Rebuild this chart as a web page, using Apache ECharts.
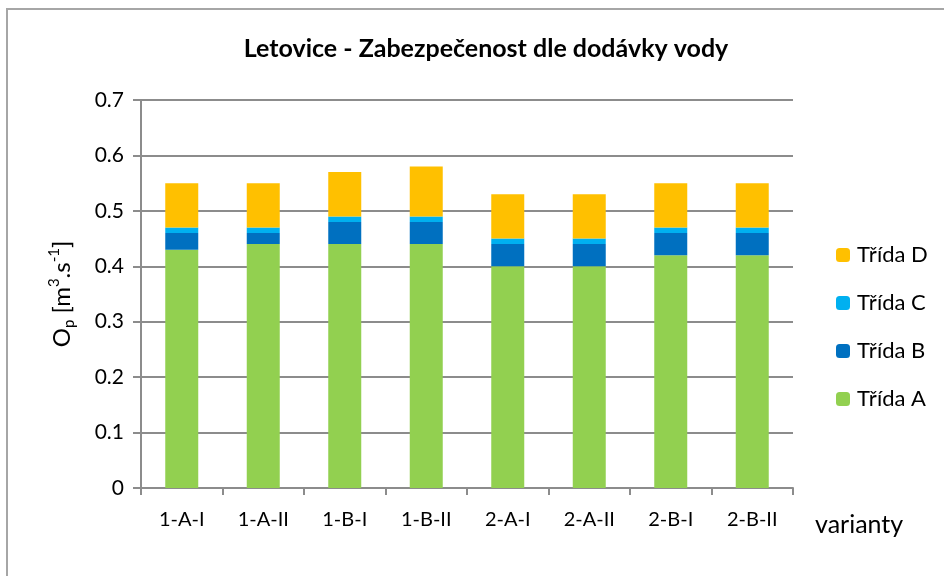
<!DOCTYPE html>
<html>
<head>
<meta charset="utf-8">
<script src="https://cdn.jsdelivr.net/npm/echarts@6/dist/echarts.min.js"></script>
<style>
  html, body { margin: 0; padding: 0; background: #fff; }
  #chart { width: 944px; height: 576px; }
</style>
</head>
<body>
<div id="chart"></div>
<script>
const categories = ['1-A-I', '1-A-II', '1-B-I', '1-B-II', '2-A-I', '2-A-II', '2-B-I', '2-B-II'];
// stack segments (each class adds to the one below)
const tridaA = [0.43, 0.44, 0.44, 0.44, 0.40, 0.40, 0.42, 0.42];
const tridaB = [0.03, 0.02, 0.04, 0.04, 0.04, 0.04, 0.04, 0.04];
const tridaC = [0.01, 0.01, 0.01, 0.01, 0.01, 0.01, 0.01, 0.01];
const tridaD = [0.08, 0.08, 0.08, 0.09, 0.08, 0.08, 0.08, 0.08];

const FONT = 'Lato';
const gridColor = '#8c8c8c';

const chart = echarts.init(document.getElementById('chart'));

function bar(name, data, color) {
  return {
    name: name,
    type: 'bar',
    stack: 'total',
    data: data,
    barWidth: 33,
    itemStyle: { color: color },
    emphasis: { disabled: true }
  };
}

chart.setOption({
  animation: false,
  textStyle: { fontFamily: FONT, color: '#000' },
  title: {
    text: 'Letovice - Zabezpečenost dle dodávky vody',
    left: 481,
    top: 31,
    textAlign: 'center',
    textStyle: { fontFamily: FONT, fontSize: 25, fontWeight: 'bold', color: '#000' }
  },
  graphic: [{
    type: 'rect',
    shape: { x: 7, y: 9, width: 1000, height: 700 },
    style: { fill: 'none', stroke: '#a6a6a6', lineWidth: 2 },
    silent: true
  }],
  legend: {
    orient: 'vertical',
    left: 831,
    top: 239,
    itemWidth: 14,
    itemHeight: 14,
    itemGap: 26,
    data: ['Třída D', 'Třída C', 'Třída B', 'Třída A'],
    textStyle: { fontFamily: FONT, fontSize: 22, color: '#000', padding: [0, 0, 0, 2] }
  },
  grid: { left: 141, right: 151, top: 100, bottom: 88 },
  xAxis: {
    type: 'category',
    data: categories,
    name: 'varianty',
    nameLocation: 'end',
    nameGap: 22,
    nameTextStyle: { fontFamily: FONT, fontSize: 25, color: '#000', verticalAlign: 'top', padding: [24, 0, 0, 0] },
    axisLine: { lineStyle: { color: gridColor, width: 2 } },
    axisTick: { show: true, length: 7, lineStyle: { color: gridColor, width: 2 } },
    axisLabel: { fontFamily: FONT, fontSize: 20, color: '#000', margin: 22 }
  },
  yAxis: {
    type: 'value',
    min: 0,
    max: 0.7,
    interval: 0.1,
    name: '{a|O}{sub|p}{a| [m}{sup|3}{a|.s}{sup|-1}{a|]}',
    nameLocation: 'middle',
    nameGap: 64,
    nameTextStyle: {
      rich: {
        a: { fontFamily: FONT, fontSize: 24, lineHeight: 30, color: '#000' },
        sub: { fontFamily: FONT, fontSize: 15, lineHeight: 15, color: '#000', verticalAlign: 'bottom' },
        sup: { fontFamily: FONT, fontSize: 15, lineHeight: 15, color: '#000', verticalAlign: 'top' }
      }
    },
    axisLine: { show: true, lineStyle: { color: gridColor, width: 2 } },
    axisTick: { show: true, length: 8, lineStyle: { color: gridColor, width: 2 } },
    splitLine: { lineStyle: { color: gridColor, width: 2 } },
    axisLabel: {
      fontFamily: FONT, fontSize: 21, color: '#000', margin: 17,
      formatter: v => (Math.round(v * 10) / 10).toString()
    }
  },
  series: [
    bar('Třída A', tridaA, '#92D050'),
    bar('Třída B', tridaB, '#0070C0'),
    bar('Třída C', tridaC, '#00B0F0'),
    bar('Třída D', tridaD, '#FFC000')
  ]
});
</script>
</body>
</html>
